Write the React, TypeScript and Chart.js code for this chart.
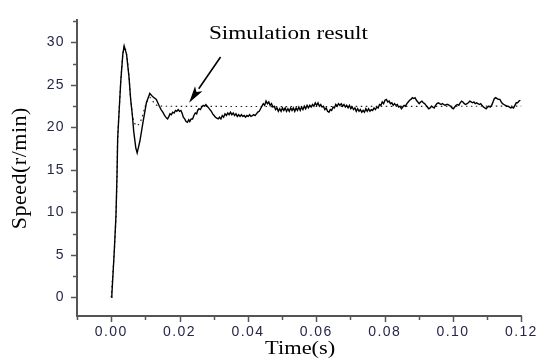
import React, { useEffect, useRef } from "react";
import { Chart, registerables } from "chart.js";

Chart.register(...registerables);

// ---- data (time in s, speed in r/min) ----
const solidTime = [
  0.0, 0.0002, 0.0009, 0.0014, 0.0017, 0.0019, 0.0024, 0.0028, 0.0034, 0.0038,
  0.0045, 0.0052, 0.0057, 0.0062, 0.0066, 0.0072, 0.0076, 0.0084, 0.0093, 0.0103,
  0.0113, 0.0122, 0.0132,
  0.0141, 0.0146, 0.0151, 0.0155, 0.0158, 0.0162, 0.0165, 0.0169, 0.0172, 0.0176,
  0.018, 0.0184, 0.0188, 0.0192, 0.0196, 0.02, 0.0204, 0.0208, 0.0211, 0.0215,
  0.0219, 0.0223, 0.0227, 0.023, 0.0234, 0.0238, 0.0242, 0.0246, 0.025, 0.0253,
  0.0257, 0.0261, 0.0265, 0.0269, 0.0273, 0.0277, 0.0281, 0.0285, 0.0289, 0.0293,
  0.0297, 0.0301, 0.0305, 0.0309, 0.0313, 0.0317, 0.0321, 0.0325, 0.0329, 0.0333,
  0.0337, 0.0341, 0.0345, 0.0349, 0.0353, 0.0357, 0.0361, 0.0365, 0.0369, 0.0373,
  0.0377, 0.0381, 0.0385, 0.0389, 0.0393, 0.0397, 0.0401, 0.0405, 0.0409, 0.0413,
  0.0417, 0.0421, 0.0425, 0.0429, 0.0433, 0.0437, 0.0441, 0.0445, 0.0449, 0.0453,
  0.0457, 0.0461, 0.0465, 0.0469, 0.0473, 0.0477, 0.0481, 0.0485, 0.0489, 0.0493,
  0.0497, 0.0501, 0.0505, 0.0509, 0.0513, 0.0517, 0.0521, 0.0525, 0.0529, 0.0533,
  0.0537, 0.0541, 0.0545, 0.0549, 0.0553, 0.0557, 0.0561, 0.0565, 0.0569, 0.0573,
  0.0577, 0.0581, 0.0585, 0.0589, 0.0593, 0.0597, 0.0601, 0.0605, 0.0609, 0.0613,
  0.0617, 0.0621, 0.0625, 0.0629, 0.0633, 0.0637, 0.0641, 0.0645, 0.0649, 0.0653,
  0.0657, 0.0661, 0.0665, 0.0669, 0.0673, 0.0677, 0.0681, 0.0685, 0.0689, 0.0693,
  0.0697, 0.0701, 0.0705, 0.0709, 0.0713, 0.0717, 0.0721, 0.0725, 0.0729, 0.0733,
  0.0737, 0.0741, 0.0745, 0.0749, 0.0753, 0.0757, 0.0761, 0.0765, 0.0769, 0.0773,
  0.0777, 0.0781, 0.0785, 0.0789, 0.0793, 0.0797, 0.0801, 0.0805, 0.0809, 0.0813,
  0.0817, 0.0821, 0.0825, 0.0829, 0.0833, 0.0837, 0.0841, 0.0845, 0.0849, 0.0853,
  0.0857, 0.0861, 0.0865, 0.0869, 0.0873, 0.0877, 0.0881, 0.0885, 0.0889, 0.0893,
  0.0897, 0.0901, 0.0905, 0.0909, 0.0913, 0.0917, 0.0921, 0.0925, 0.0929, 0.0933,
  0.0937, 0.0941, 0.0945, 0.0949, 0.0953, 0.0957, 0.0961, 0.0965, 0.0969, 0.0973,
  0.0977, 0.0981, 0.0985, 0.0989, 0.0993, 0.0997, 0.1001, 0.1005, 0.1009, 0.1013,
  0.1017, 0.1021, 0.1025, 0.1029, 0.1033, 0.1037, 0.1041, 0.1045, 0.1049, 0.1053,
  0.1057, 0.1061, 0.1065, 0.1069, 0.1073, 0.1077, 0.1081, 0.1085, 0.1089, 0.1093,
  0.1097, 0.1101, 0.1105, 0.1109, 0.1113, 0.1117, 0.1121, 0.1125, 0.1129, 0.1133,
  0.1137, 0.1141, 0.1145, 0.1149, 0.1153, 0.1157, 0.1161, 0.1165, 0.1169, 0.1173,
  0.1177, 0.1181, 0.1185, 0.1189, 0.1193, 0.1197,
];
const solidSpeed = [
  0.0, 0.3, 5.4, 9.6, 14.3, 18.7, 22.5, 25.4, 28.6, 29.6,
  28.6, 26.0, 23.3, 21.4, 19.5, 17.6, 17.0, 18.4, 20.6, 22.9,
  24.0, 23.6, 23.3,
  22.5, 22.1, 21.8, 21.5, 21.3, 21.1, 21.0, 21.3, 21.6, 21.5,
  21.8, 21.7, 22.0, 21.9, 22.1, 21.9, 22.0, 21.6, 21.2, 21.0,
  20.7, 20.6, 20.9, 20.7, 21.0, 21.0, 21.4, 21.7, 21.6, 22.0,
  22.2, 22.1, 22.4, 22.6, 22.5, 22.7, 22.5, 22.3, 22.1, 21.9,
  21.6, 21.4, 21.2, 21.1, 21.0, 21.2, 21.0, 21.4, 21.2, 21.6,
  21.4, 21.7, 21.5, 21.8, 21.5, 21.7, 21.4, 21.6, 21.3, 21.5,
  21.3, 21.5, 21.3, 21.4, 21.2, 21.4, 21.3, 21.5, 21.3, 21.4,
  21.5, 21.4, 21.6, 21.8, 21.9, 22.2, 22.5, 22.8, 22.6, 23.1,
  22.8, 23.0, 22.6, 22.8, 22.4, 22.5, 22.1, 22.3, 21.9, 22.2,
  21.9, 22.3, 22.0, 22.3, 21.9, 22.2, 21.9, 22.3, 22.0, 22.3,
  21.9, 22.3, 22.0, 22.4, 22.0, 22.4, 22.1, 22.5, 22.2, 22.6,
  22.3, 22.6, 22.4, 22.7, 22.5, 22.9, 22.6, 22.9, 22.5, 22.7,
  22.4, 22.5, 22.1, 22.3, 21.9, 21.8, 22.1, 22.0, 22.4, 22.3,
  22.7, 22.5, 22.8, 22.6, 22.8, 22.5, 22.7, 22.4, 22.6, 22.3,
  22.6, 22.2, 22.4, 22.1, 22.3, 21.9, 22.2, 21.9, 22.1, 21.8,
  22.0, 21.8, 22.2, 21.9, 22.2, 21.9, 22.1, 22.0, 22.3, 22.1,
  22.4, 22.3, 22.7, 22.6, 23.0, 22.8, 23.2, 23.3, 23.0, 23.1,
  22.8, 22.9, 22.6, 22.8, 22.6, 22.7, 22.4, 22.5, 22.2, 22.4,
  22.6, 22.5, 22.8, 23.0, 23.2, 23.3, 23.5, 23.4, 23.5, 23.2,
  23.0, 22.8, 23.0, 23.1, 22.9, 22.8, 22.6, 22.4, 22.2, 22.3,
  22.5, 22.4, 22.3, 22.6, 22.8, 22.9, 22.8, 22.7, 22.8, 22.7,
  22.6, 22.7, 22.7, 22.6, 22.5, 22.3, 22.2, 22.4, 22.6, 22.7,
  22.6, 22.9, 23.1, 23.0, 22.8, 22.7, 22.8, 22.9, 23.1, 23.0,
  22.9, 23.0, 22.8, 22.9, 22.8, 22.7, 22.8, 22.6, 22.4, 22.3,
  22.2, 22.4, 22.5, 22.4, 22.6, 23.0, 23.4, 23.5, 23.4, 23.3,
  23.3, 23.0, 22.8, 22.7, 22.6, 22.5, 22.5, 22.4, 22.3, 22.4,
  22.3, 22.6, 22.9, 22.9, 23.1, 23.2,
];
const refTime = [
  0.0, 0.0009, 0.0014, 0.0017, 0.0019, 0.0024, 0.0028, 0.0034, 0.0038, 0.0045,
  0.0052, 0.0057, 0.0062, 0.0066, 0.0073, 0.0079, 0.0089, 0.0098, 0.0108, 0.0115,
  0.0127, 0.0141, 0.12,
];
const refSpeed = [
  0.0, 5.4, 9.6, 14.3, 18.7, 22.5, 25.4, 28.6, 29.6, 28.6,
  26.0, 23.3, 21.6, 20.8, 20.2, 20.3, 21.0, 22.3, 23.3, 23.5,
  22.8, 22.5, 22.5,
];

// axes
const X_MIN = -0.01;
const X_MAX = 0.12;
const X_STEP = 0.01;
const Y_MIN = -2.2;
const Y_MAX = 32.6;
const Y_STEP = 2.5;
const Y_LABEL_EVERY = 5;

// texts / annotation (anchored in data coordinates)
const X_TITLE = "Time(s)";
const Y_TITLE = "Speed(r/min)";
const NOTE_TEXT = "Simulation result";
const NOTE_AT = { t: 0.0286, v: 30.45 };
const ARROW_FROM = { t: 0.032, v: 28.3 };
const ARROW_TO = { t: 0.0228, v: 22.9 };

const AXIS_COLOR = "#555555";
const TICK_TEXT = "#26264a";

const decorPlugin = {
  id: "decor",
  beforeDraw(chart: any) {
    chart.ctx.letterSpacing = "1.4px";
  },
  beforeDatasetsDraw(chart: any) {
    chart.ctx.letterSpacing = "0px";
  },
  afterDraw(chart: any) {
    const { ctx, chartArea, scales } = chart;
    const xs = scales.x;
    const ys = scales.y;
    ctx.save();
    ctx.letterSpacing = "0px";
    ctx.strokeStyle = AXIS_COLOR;
    ctx.lineWidth = 1.5;
    // y tick marks
    ys.ticks.forEach((tk: any) => {
      const major = Math.abs(tk.value % Y_LABEL_EVERY) < 1e-6;
      const y = Math.round(ys.getPixelForValue(tk.value)) + 0.5;
      ctx.beginPath();
      ctx.moveTo(chartArea.left, y);
      ctx.lineTo(chartArea.left - (major ? 6 : 4), y);
      ctx.stroke();
    });
    // x tick marks
    xs.ticks.forEach((tk: any) => {
      const major = Math.round(tk.value * 100) % 2 === 0;
      const x = Math.round(xs.getPixelForValue(tk.value)) + 0.5;
      ctx.beginPath();
      ctx.moveTo(x, chartArea.bottom);
      ctx.lineTo(x, chartArea.bottom + (major ? 6 : 4));
      ctx.stroke();
    });

    ctx.fillStyle = "#000";
    // y title
    ctx.save();
    ctx.font = '22px "Liberation Serif"';
    ctx.letterSpacing = "0.5px";
    ctx.textAlign = "center";
    ctx.textBaseline = "middle";
    ctx.translate(20.5, (chartArea.top + chartArea.bottom) / 2);
    ctx.rotate(-Math.PI / 2);
    ctx.fillText(Y_TITLE, 0, 0);
    ctx.restore();

    // x title
    ctx.save();
    ctx.font = '19px "Liberation Serif"';
    ctx.textAlign = "center";
    ctx.textBaseline = "alphabetic";
    ctx.translate((chartArea.left + chartArea.right) / 2 + 1, 354);
    ctx.scale(1.18, 1);
    ctx.fillText(X_TITLE, 0, 0);
    ctx.restore();

    // annotation
    ctx.save();
    ctx.font = '19px "Liberation Serif"';
    ctx.textAlign = "left";
    ctx.textBaseline = "alphabetic";
    ctx.translate(xs.getPixelForValue(NOTE_AT.t), ys.getPixelForValue(NOTE_AT.v));
    ctx.scale(1.22, 1);
    ctx.fillText(NOTE_TEXT, 0, 0);
    ctx.restore();

    // arrow
    const x0 = xs.getPixelForValue(ARROW_FROM.t);
    const y0 = ys.getPixelForValue(ARROW_FROM.v);
    const x1 = xs.getPixelForValue(ARROW_TO.t);
    const y1 = ys.getPixelForValue(ARROW_TO.v);
    const ang = Math.atan2(y1 - y0, x1 - x0);
    const hl = 17;
    const hw = 4.5;
    const bx = x1 - hl * Math.cos(ang);
    const by = y1 - hl * Math.sin(ang);
    ctx.strokeStyle = "#000";
    ctx.lineWidth = 1.6;
    ctx.beginPath();
    ctx.moveTo(x0, y0);
    ctx.lineTo(bx, by);
    ctx.stroke();
    ctx.beginPath();
    ctx.moveTo(x1, y1);
    ctx.lineTo(bx + hw * Math.sin(ang), by - hw * Math.cos(ang));
    ctx.lineTo(x1 - (hl - 4) * Math.cos(ang), y1 - (hl - 4) * Math.sin(ang));
    ctx.lineTo(bx - hw * Math.sin(ang), by + hw * Math.cos(ang));
    ctx.closePath();
    ctx.fillStyle = "#000";
    ctx.fill();
    ctx.restore();
  },
};

export default function App() {
  const ref = useRef<HTMLCanvasElement | null>(null);

  useEffect(() => {
    document.body.style.margin = "0";
    const canvas = ref.current;
    if (!canvas) return;
    const solid = solidTime.map((t, i) => ({ x: t, y: solidSpeed[i] }));
    const dotted = refTime.map((t, i) => ({ x: t, y: refSpeed[i] }));
    const chart = new Chart(canvas, {
      type: "line",
      data: {
        datasets: [
          {
            label: "Experiment",
            data: solid,
            borderColor: "#000",
            borderWidth: 1.4,
            pointRadius: 0,
            tension: 0,
            fill: false,
          },
          {
            label: "Simulation result",
            data: dotted,
            borderColor: "#222",
            borderWidth: 1.2,
            borderDash: [1.5, 3.5],
            pointRadius: 0,
            tension: 0.3,
            fill: false,
          },
        ],
      },
      plugins: [decorPlugin],
      options: {
        responsive: false,
        animation: false,
        devicePixelRatio: 1,
        layout: { padding: { left: 0, top: 12, right: 16, bottom: 0 } },
        plugins: {
          legend: { display: false },
          tooltip: { enabled: false },
        },
        scales: {
          x: {
            type: "linear",
            min: X_MIN,
            max: X_MAX,
            afterFit: (s: any) => {
              s.height = 42;
            },
            border: { display: true, color: AXIS_COLOR, width: 2 },
            grid: { display: false, drawTicks: false },
            ticks: {
              stepSize: X_STEP,
              includeBounds: false,
              autoSkip: false,
              maxRotation: 0,
              padding: 8,
              color: TICK_TEXT,
              font: { family: '"Liberation Sans", Arial, sans-serif', size: 14 },
              callback: (v: any) => {
                const n = Math.round(Number(v) * 100);
                return n % 2 === 0 ? (n / 100).toFixed(2) : "";
              },
            },
          },
          y: {
            type: "linear",
            min: Y_MIN,
            max: Y_MAX,
            afterFit: (s: any) => {
              s.width = 77;
            },
            border: { display: true, color: AXIS_COLOR, width: 2 },
            grid: { display: false, drawTicks: false },
            ticks: {
              stepSize: Y_STEP,
              includeBounds: false,
              autoSkip: false,
              padding: 12,
              color: TICK_TEXT,
              font: { family: '"Liberation Sans", Arial, sans-serif', size: 14 },
              callback: (v: any) => {
                const n = Number(v);
                return Math.abs(n % Y_LABEL_EVERY) < 1e-6 ? String(Math.round(n)) : "";
              },
            },
          },
        },
      },
    });
    return () => chart.destroy();
  }, []);

  return (
    <div style={{ width: 543, height: 358 }}>
      <canvas ref={ref} width={543} height={358} style={{ display: "block" }} />
    </div>
  );
}
